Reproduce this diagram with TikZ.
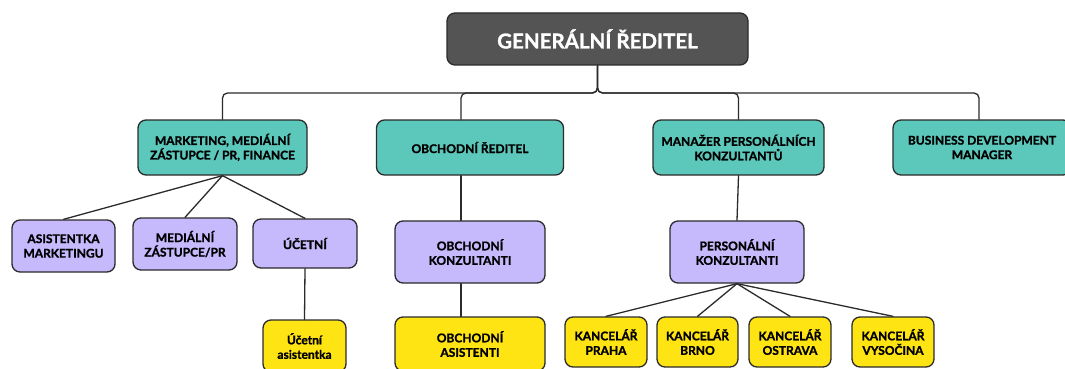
\documentclass[tikz,border=0pt]{standalone}
\usepackage{fontspec}
\setmainfont{Lato}[BoldFeatures={FakeBold=1.3}]
\begin{document}
\begin{tikzpicture}[x=1pt,y=-1pt,line cap=round,line join=round,
  card/.style={draw=edgegray,line width=1.3pt,rounded corners=8pt,align=center,
    inner sep=0pt,text=black,font=\bfseries\fontsize{12}{14.5}\selectfont},
  headcard/.style={card,fill=headgray,text=white,font=\bfseries\fontsize{20.5}{24}\selectfont},
  leadcard/.style={card,fill=leadteal},
  teamcard/.style={card,fill=teamlilac},
  staffcard/.style={card,fill=staffyellow},
  link/.style={draw=edgegray,line width=1.3pt},
  raillink/.style={link,rounded corners=5pt}]
\definecolor{headgray}{RGB}{84,84,84}
\definecolor{leadteal}{RGB}{92,200,187}
\definecolor{teamlilac}{RGB}{198,186,253}
\definecolor{staffyellow}{RGB}{255,228,20}
\definecolor{edgegray}{RGB}{43,43,43}

\useasboundingbox (0,0) rectangle (1065,369);

% top
\node[headcard,minimum width=301pt,minimum height=52pt] (ceo) at (597.5,39) {GENERÁLNÍ ŘEDITEL};
\coordinate (rail) at (0,93);

% first row
\node[leadcard,minimum width=169pt,minimum height=55pt] (mkt) at (222.5,147.5)
  {MARKETING, MEDIÁLNÍ\\ZÁSTUPCE / PR, FINANCE};
\node[leadcard,minimum width=187pt,minimum height=55pt] (obr) at (470,147.5)
  {OBCHODNÍ ŘEDITEL};
\node[leadcard,minimum width=171pt,minimum height=55pt] (mpk) at (738.5,147.5)
  {MANAŽER PERSONÁLNÍCH\\KONZULTANTŮ};
\node[leadcard,minimum width=178pt,minimum height=55pt] (bdm) at (982,147.5)
  {BUSINESS DEVELOPMENT\\MANAGER};

% second row
\node[teamcard,minimum width=103pt,minimum height=52pt] (asm) at (63.5,246)
  {ASISTENTKA\\MARKETINGU};
\node[teamcard,minimum width=104pt,minimum height=52pt] (med) at (185,244)
  {MEDIÁLNÍ\\ZÁSTUPCE/PR};
\node[teamcard,minimum width=104pt,minimum height=49pt] (uce) at (305,243.5)
  {ÚČETNÍ};
\node[teamcard,minimum width=150pt,minimum height=62pt] (obk) at (470,252)
  {OBCHODNÍ\\KONZULTANTI};
\node[teamcard,minimum width=134pt,minimum height=62pt] (pek) at (737,252)
  {PERSONÁLNÍ\\KONZULTANTI};

% third row
\node[staffcard,minimum width=83pt,minimum height=52pt] (uca) at (304.5,346)
  {Účetní\\asistentka};
\node[staffcard,minimum width=150pt,minimum height=54pt] (oba) at (470,344)
  {OBCHODNÍ\\ASISTENTI};
\node[staffcard,minimum width=82pt,minimum height=50pt] (kpr) at (606,342)
  {KANCELÁŘ\\PRAHA};
\node[staffcard,minimum width=81pt,minimum height=50pt] (kbr) at (697.5,342)
  {KANCELÁŘ\\BRNO};
\node[staffcard,minimum width=82pt,minimum height=50pt] (kos) at (790,342)
  {KANCELÁŘ\\OSTRAVA};
\node[staffcard,minimum width=82pt,minimum height=50pt] (kvy) at (893,342)
  {KANCELÁŘ\\VYSOČINA};

% links from the top
\draw[raillink] (ceo.south) -- (ceo.south |- rail) -| (mkt.north);
\draw[raillink] (ceo.south) -- (ceo.south |- rail) -| ([xshift=-9pt]obr.north);
\draw[raillink] (ceo.south) -- (ceo.south |- rail) -| (mpk.north);
\draw[raillink] (ceo.south) -- (ceo.south |- rail) -| ([xshift=-3pt]bdm.north);

% links below
\draw[link] (mkt.south) -- (asm.north);
\draw[link] (mkt.south) -- (med.north);
\draw[link] (mkt.south) -- (uce.north);
\draw[link] (uce.south) -- (uca.north);
\draw[link] ([xshift=-9pt]obr.south) -- ([xshift=-9pt]obk.north);
\draw[link] ([xshift=-9pt]obk.south) -- ([xshift=-9pt]oba.north);
\draw[link] (mpk.south) -- (pek.north);
\draw[link] (pek.south) -- (kpr.north);
\draw[link] (pek.south) -- (kbr.north);
\draw[link] (pek.south) -- (kos.north);
\draw[link] (pek.south) -- (kvy.north);
\end{tikzpicture}
\end{document}
